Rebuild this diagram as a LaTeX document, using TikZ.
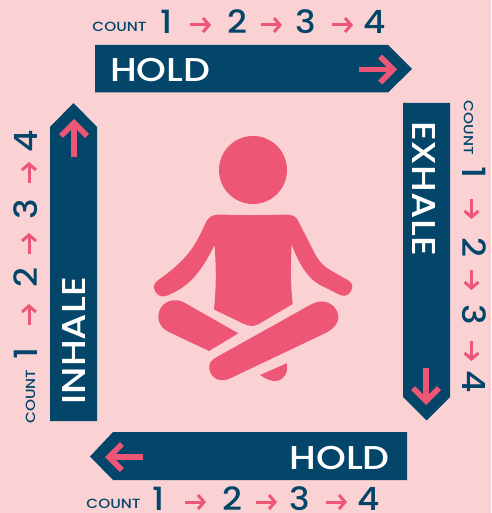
\documentclass[tikz,border=0pt]{standalone}
\usepackage{fontspec}
\setmainfont{Poppins}[UprightFont=* Medium]
\newfontfamily\wordfont{Poppins}[UprightFont=* Medium, FakeStretch=1.15]
\newfontfamily\digitfont{Poppins}[UprightFont=* Medium, FakeStretch=1.08]
\usetikzlibrary{arrows.meta}
\definecolor{bgpink}{HTML}{FAD2D4}
\definecolor{navy}{HTML}{03466A}
\definecolor{rose}{HTML}{EE5676}

\begin{document}
\begin{tikzpicture}[
  x=1pt, y=-1pt,
  banner/.style={fill=navy},
  word/.style={font=\wordfont\fontsize{33}{33}\selectfont, text=white, inner sep=0pt},
  digit/.style={font=\digitfont\fontsize{32}{32}\selectfont, text=navy, inner sep=0pt},
  countlabel/.style={font=\wordfont\fontsize{13.3}{13.3}\selectfont, text=navy, inner sep=0pt},
  tick/.style={draw=rose, line width=3pt, -{Straight Barb[length=6pt, width=14pt]}},
  bigtick/.style={draw=rose, line width=5.5pt, -{Straight Barb[length=13pt, width=26pt]}},
  figure/.style={fill=rose}
]
\fill[bgpink] (0,0) rectangle (491,513);

% --- Hold, top ---
\fill[banner] (95,45) -- (388,45) -- (412,69) -- (388,92.5) -- (95,92.5) -- cycle;
\node[word, anchor=west] (holdtop) at (110,70.5) {HOLD};
\coordinate (holdtopa) at (359,69.5);
\coordinate (holdtopb) at (397,69.5);
\draw[bigtick] (holdtopa) -- (holdtopb);

\node[countlabel] (counttop) at (119.5,26.7) {COUNT};
\foreach \c/\x [count=\i] in {1/167,2/237,3/306,4/375} {
  \node[digit] (td\i) at (\x,21.5) {\c};
}
\foreach \a/\b [count=\i] in {190/211,261/282,332/353} {
  \coordinate (ta\i) at (\a,25);
  \coordinate (tb\i) at (\b,25);
  \draw[tick] (ta\i) -- (tb\i);
}

% --- Exhale, right ---
\fill[banner] (403,103) -- (450,103) -- (450,397) -- (426.5,420.5) -- (403,397) -- cycle;
\node[word, rotate=-90] (exhale) at (424,188.5) {EXHALE};
\coordinate (exhalea) at (426,368);
\coordinate (exhaleb) at (426,405);
\draw[bigtick] (exhalea) -- (exhaleb);

\node[countlabel, rotate=-90] (countright) at (468.5,128) {COUNT};
\foreach \c/\y [count=\i] in {1/173,2/247,3/315,4/382} {
  \node[digit, rotate=-90] (rd\i) at (474,\y) {\c};
}
\foreach \a/\b [count=\i] in {199/219,270/290,341/361} {
  \coordinate (ra\i) at (471.5,\a);
  \coordinate (rb\i) at (471.5,\b);
  \draw[tick] (ra\i) -- (rb\i);
}

% --- Hold, bottom ---
\fill[banner] (407,432) -- (113,432) -- (90,456.5) -- (113,480) -- (407,480) -- cycle;
\node[word, anchor=east] (holdbot) at (390,457.5) {HOLD};
\coordinate (holdbota) at (143,457);
\coordinate (holdbotb) at (105,457);
\draw[bigtick] (holdbota) -- (holdbotb);

\node[countlabel] (countbot) at (113.5,504) {COUNT};
\foreach \c/\x [count=\i] in {1/159,2/232,3/300,4/369} {
  \node[digit] (bd\i) at (\x,499) {\c};
}
\foreach \a/\b [count=\i] in {185/206,256/277,326/347} {
  \coordinate (ba\i) at (\a,502);
  \coordinate (bb\i) at (\b,502);
  \draw[tick] (ba\i) -- (bb\i);
}

% --- Inhale, left ---
\fill[banner] (50,421) -- (97,421) -- (97,127) -- (73.5,103) -- (50,127) -- cycle;
\node[word, rotate=90] (inhale) at (74.5,340.5) {INHALE};
\coordinate (inhalea) at (74,157);
\coordinate (inhaleb) at (74,119);
\draw[bigtick] (inhalea) -- (inhaleb);

\node[countlabel, rotate=90] (countleft) at (30.5,396.5) {COUNT};
\foreach \c/\y [count=\i] in {1/353,2/278,3/209,4/141} {
  \node[digit, rotate=90] (ld\i) at (26,\y) {\c};
}
\foreach \a/\b [count=\i] in {325/304,254/233,183/162} {
  \coordinate (la\i) at (29,\a);
  \coordinate (lb\i) at (29,\b);
  \draw[tick] (la\i) -- (lb\i);
}

% --- Figure ---
\fill[figure] (253,170) circle (34);
% body and arms
\fill[figure] (291.7,244.3) .. controls (298,262) and (307,278) .. (320,285)
  -- (340,295) .. controls (346,298) and (352,293) .. (352.3,287)
  .. controls (352.5,283) and (350,281.5) .. (346.7,279.5)
  -- (330,270) .. controls (322,265) and (318,260) .. (314,252)
  -- (298.3,221) .. controls (296,216) and (292,214.5) .. (285,214.5)
  .. controls (262,215.5) and (243,215.5) .. (220,214.5)
  .. controls (212,214.5) and (209,217) .. (206,222)
  .. controls (197,242) and (190,258) .. (158.3,280)
  .. controls (154,283) and (153.5,287) .. (154,288)
  .. controls (155,294) and (160,298) .. (166,296)
  .. controls (188,287) and (199,276) .. (214.5,245)
  .. controls (216.5,270) and (216,290) .. (214,309.5)
  -- (243,323.5) .. controls (249,326.5) and (253,326.5) .. (258,324.5)
  -- (292.7,304) .. controls (290.5,285) and (290.5,265) .. (291.7,244.3) -- cycle;
% back leg
\fill[figure] (185,303) -- (238.3,333.3) -- (209,351) -- (168.3,331.7)
  .. controls (159,327) and (157,318) .. (159,312)
  .. controls (162,301) and (175,297) .. (185,303) -- cycle;
% front leg
\fill[figure] (217.3,356.7) -- (310,305)
  .. controls (322,298) and (332,302) .. (337,311)
  .. controls (341,320) and (336,328) .. (325,333.3)
  -- (232,377.5) .. controls (222,383) and (212,380) .. (209.5,370)
  .. controls (208,364) and (211,360) .. (217.3,356.7) -- cycle;
% foot
\fill[figure] (260,375) -- (286.7,363.3) .. controls (288.5,372) and (285,379) .. (277,381)
  .. controls (271,381.5) and (266,379) .. (260,375) -- cycle;
\end{tikzpicture}
\end{document}
